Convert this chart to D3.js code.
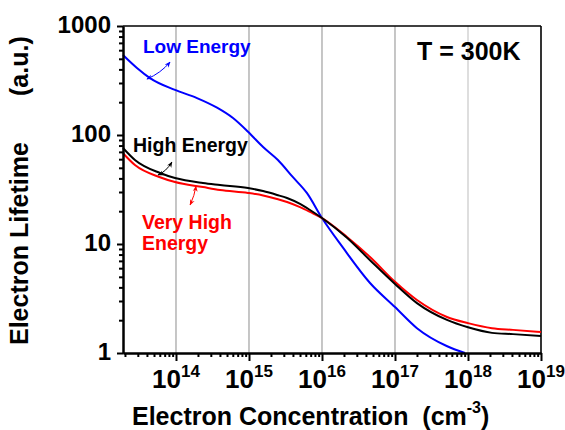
<!DOCTYPE html>
<html><head><meta charset="utf-8">
<script src="https://cdn.jsdelivr.net/npm/d3@7"></script>
<style>
body{margin:0;background:#fff}
svg{display:block}
text{font-family:"Liberation Sans",Arial,Helvetica,sans-serif;font-weight:bold}
</style>
</head><body>
<script>
// ---- data ----
const xLow  = [1.88e13, 2.92e13, 4.4e13, 9.7e13, 1.94e14, 3.65e14, 6.04e14, 9.7e14, 1.56e15, 2.49e15, 4.0e15, 6.2e15, 1e16, 1.95e16, 4.55e16, 1e17, 2e17, 5.1e17, 9.1e17];
const yLow  = [542, 412, 333, 259, 218, 178, 143, 107, 77.6, 59, 41, 29.4, 17.3, 9.2, 4.39, 2.64, 1.69, 1.16, 1.0];
const xHigh = [1.88e13, 2.74e13, 6.04e13, 9.7e13, 2.34e14, 4.01e14, 9.7e14, 1.56e15, 2.42e15, 3.32e15, 5.0e15, 6.85e15, 1e16, 2.2e16, 4.55e16, 1e17, 2e17, 5.15e17, 1e18, 2.13e18, 4.13e18, 1e19];
const yHigh = [76, 59, 44.8, 40.3, 36.3, 34.8, 32.6, 30.6, 28.2, 26.4, 23.3, 20.5, 17.3, 11.4, 7.1, 4.3, 2.87, 2.01, 1.72, 1.53, 1.49, 1.43];
const yVeryHigh = [68, 53, 41, 37, 33.3, 31.3, 29.4, 27.9, 25.9, 24.3, 21.8, 19.7, 17.3, 11.6, 7.6, 4.5, 3.06, 2.14, 1.88, 1.69, 1.63, 1.56];
const xTickExps = [14, 15, 16, 17, 18, 19];
const yTickLabels = ["1", "10", "100", "1000"];
const yTickValues = [1, 10, 100, 1000];

const W = 565, H = 430;
const P = {l: 123, r: 541, t: 26, b: 353};
const x = d3.scaleLog().domain([1.88e13, 1e19]).range([P.l, P.r]);
const y = d3.scaleLog().domain([1, 1000]).range([P.b, P.t]);

const svg = d3.select("body").append("svg").attr("width", W).attr("height", H);

// markers
const defs = svg.append("defs");
[["arrBlue","#0000ff"],["arrBlack","#000"],["arrRed","#ff0000"]].forEach(([id,c])=>{
  defs.append("marker").attr("id",id).attr("viewBox","0 0 10 10").attr("refX",9).attr("refY",5)
    .attr("markerWidth",6).attr("markerHeight",6).attr("orient","auto-start-reverse")
    .append("path").attr("d","M0,1 L10,5 L0,9 L3,5 Z").attr("fill",c);
});

// vertical grid lines
const gridExps = [14, 15, 16, 17, 18];
svg.append("g").selectAll("line").data(gridExps).join("line")
  .attr("x1", d => x(Math.pow(10, d))).attr("x2", d => x(Math.pow(10, d)))
  .attr("y1", P.t).attr("y2", P.b)
  .attr("stroke", d => d === 18 ? "#c8c8c8" : "#a0a0a0").attr("stroke-width", 1.2);

// minor tick values
const xMinor = [], yMinor = [];
for (let e = 13; e <= 18; e++) for (let k = 2; k <= 9; k++) { const v = k * Math.pow(10, e); if (v >= 1.88e13 && v < 1e19) xMinor.push(v); }
for (let e = 0; e <= 2; e++) for (let k = 2; k <= 9; k++) yMinor.push(k * Math.pow(10, e));

// frame top/right
svg.append("line").attr("x1", P.l).attr("x2", P.r).attr("y1", P.t).attr("y2", P.t).attr("stroke", "#000").attr("stroke-width", 1.6);
svg.append("line").attr("x1", P.r).attr("x2", P.r).attr("y1", P.t).attr("y2", P.b).attr("stroke", "#000").attr("stroke-width", 1.6);

// curves
const line = (xs) => d3.line().x((d, i) => x(xs[i])).y(d => y(d)).curve(d3.curveMonotoneX);
svg.append("path").datum(yLow).attr("d", line(xLow)).attr("fill", "none").attr("stroke", "#0000ff").attr("stroke-width", 2);
svg.append("path").datum(yVeryHigh).attr("d", line(xHigh)).attr("fill", "none").attr("stroke", "#ff0000").attr("stroke-width", 2);
svg.append("path").datum(yHigh).attr("d", line(xHigh)).attr("fill", "none").attr("stroke", "#000").attr("stroke-width", 2);

// axes
function styleAxis(g){ g.selectAll("path,line").attr("stroke","#000").attr("stroke-width",2); g.selectAll("text").remove(); }
svg.append("g").attr("transform", `translate(0,${P.b})`)
  .call(d3.axisBottom(x).tickValues(xMinor).tickSize(4).tickSizeOuter(0)).call(styleAxis);
svg.append("g").attr("transform", `translate(0,${P.b})`)
  .call(d3.axisBottom(x).tickValues(xTickExps.map(e => Math.pow(10, e))).tickSize(8).tickSizeOuter(0)).call(styleAxis);
svg.append("g").attr("transform", `translate(${P.l},0)`)
  .call(d3.axisLeft(y).tickValues(yMinor).tickSize(4).tickSizeOuter(0)).call(styleAxis);
svg.append("g").attr("transform", `translate(${P.l},0)`)
  .call(d3.axisLeft(y).tickValues(yTickValues).tickSize(6).tickSizeOuter(0)).call(styleAxis);

// y tick labels
svg.append("g").selectAll("text").data(yTickValues).join("text")
  .attr("x", P.l - 12).attr("y", d => y(d) + 7).attr("text-anchor", "end")
  .attr("font-size", 24).text((d, i) => yTickLabels[i]);

// x tick labels
const xl = svg.append("g").selectAll("text").data(xTickExps).join("text")
  .attr("x", d => x(Math.pow(10, d))).attr("y", P.b + 35).attr("text-anchor", "middle").attr("font-size", 26);
xl.append("tspan").text("10");
xl.append("tspan").attr("dy", -11).attr("font-size", 17).text(d => d);

// axis titles
const xt = svg.append("text").attr("x", 132).attr("y", 425).attr("font-size", 25).attr("xml:space", "preserve");
xt.append("tspan").text("Electron Concentration\u00a0\u00a0(cm");
xt.append("tspan").attr("dy", -12).attr("font-size", 16).text("-3");
xt.append("tspan").attr("dy", 12).text(")");

svg.append("text").attr("transform", "translate(28,345) rotate(-90)").attr("font-size", 25).text("Electron Lifetime");
svg.append("text").attr("transform", "translate(28,96) rotate(-90)").attr("font-size", 25).text("(a.u.)");

// annotations
svg.append("text").attr("x", x(2.0e17)).attr("y", y(488)).attr("font-size", 25).text("T = 300K");
svg.append("text").attr("x", x(3.53e13)).attr("y", y(565)).attr("font-size", 19).attr("fill", "#0000ff").text("Low Energy");
svg.append("text").attr("x", x(2.58e13)).attr("y", y(69.8)).attr("font-size", 19.5).attr("fill", "#000").text("High Energy");
svg.append("text").attr("x", x(3.42e13)).attr("y", y(13.7)).attr("font-size", 19.5).attr("fill", "#ff0000").text("Very High");
svg.append("text").attr("x", x(3.42e13)).attr("y", y(8.81)).attr("font-size", 19.5).attr("fill", "#ff0000").text("Energy");

// arrows (data coordinates)
function arrow(p0, pc, p1, color, id){
  const path = d3.path();
  path.moveTo(x(p0[0]), y(p0[1]));
  path.quadraticCurveTo(x(pc[0]), y(pc[1]), x(p1[0]), y(p1[1]));
  svg.append("path").attr("d", path.toString()).attr("fill", "none").attr("stroke", color).attr("stroke-width", 1)
    .attr("marker-end", `url(#${id})`).attr("marker-start", `url(#${id})`);
}
arrow([4.0e13, 326], [6.2e13, 370], [8.3e13, 467], "#0000ff", "arrBlue");
arrow([5.66e13, 43], [7.3e13, 46], [8.8e13, 56.5], "#000", "arrBlack");
arrow([1.88e14, 34.0], [1.8e14, 28], [1.56e14, 22.8], "#ff0000", "arrRed");
</script>
</body></html>
